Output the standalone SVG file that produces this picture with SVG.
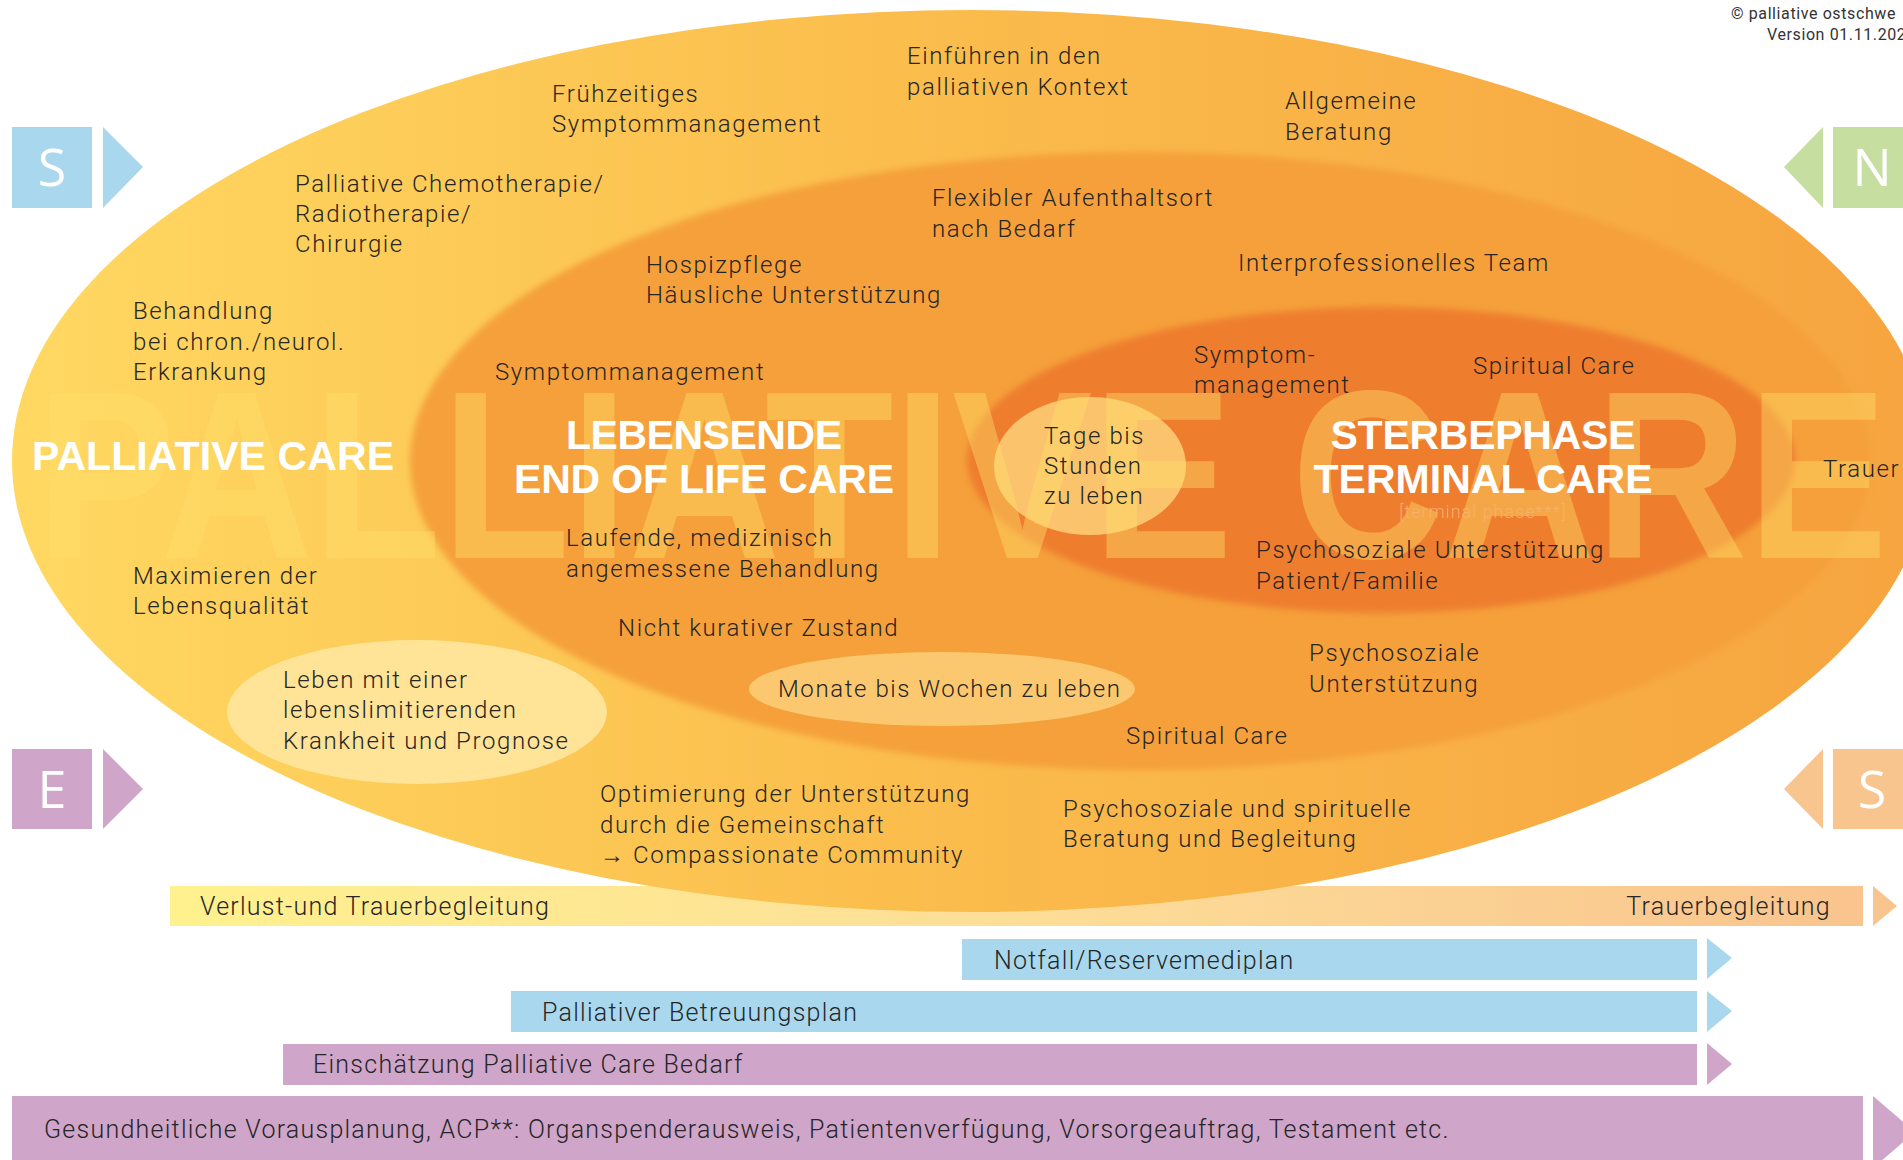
<svg xmlns="http://www.w3.org/2000/svg" width="1903" height="1160" viewBox="0 0 1903 1160">
<defs>
<linearGradient id="gOuter" x1="0" y1="0" x2="1" y2="0">
<stop offset="0" stop-color="#FFD862"/><stop offset="0.45" stop-color="#FBBE4D"/><stop offset="1" stop-color="#F6A43F"/>
</linearGradient>
<linearGradient id="gBar" x1="0" y1="0" x2="1" y2="0">
<stop offset="0" stop-color="#FFF18E"/><stop offset="0.5" stop-color="#FDDE98"/><stop offset="1" stop-color="#F9C48E"/>
</linearGradient>
<filter id="soft" x="-5%" y="-5%" width="110%" height="110%"><feGaussianBlur stdDeviation="3"/></filter>
<style>
.t{font-family:Roboto,"Liberation Sans",sans-serif;font-size:24px;font-weight:300;letter-spacing:1.6px;fill:#262626}
.b{font-family:Roboto,"Liberation Sans",sans-serif;font-size:25px;font-weight:300;letter-spacing:1.25px;fill:#262626}
.h{font-family:"Liberation Sans",Roboto,sans-serif;font-weight:700;fill:#FFFFFF}
.w{font-family:"Liberation Sans",Roboto,sans-serif;font-weight:700;fill:#FFE06A;opacity:0.42}
.badge{font-family:"Open Sans","Liberation Sans",sans-serif;font-size:52px;fill:#FFFFFF;text-anchor:middle}
.cp{font-family:Roboto,"Liberation Sans",sans-serif;font-size:16px;letter-spacing:0.6px;fill:#333333}
.blue{fill:#A9D8EE}.purple{fill:#CFA5CA}.green{fill:#C6DFA0}.peach{fill:#F9C58F}
</style>
</defs>
<rect width="1903" height="1160" fill="#FFFFFF"/>

<g id="bar-verlust">
<rect x="170" y="886" width="1693" height="40" fill="url(#gBar)"/>
<polygon points="1873,886 1897,906 1873,926" class="peach"/>
</g>

<g id="ellipses">
<ellipse cx="971" cy="461" rx="959" ry="451" fill="url(#gOuter)"/>
<ellipse cx="1140" cy="461" rx="730" ry="309" fill="#F5A03A" filter="url(#soft)"/>
<ellipse cx="1381" cy="460" rx="414" ry="153" fill="#EE7E2D" filter="url(#soft)"/>
<ellipse cx="417" cy="712" rx="190" ry="72" fill="#FFE396"/>
<ellipse cx="942" cy="689" rx="193" ry="37" fill="#FBC870"/>
<ellipse cx="1090" cy="466" rx="96" ry="69" fill="#FBC46C"/>
</g>

<text class="w" x="36" y="558" font-size="240" textLength="1852" lengthAdjust="spacingAndGlyphs">PALLIATIVE CARE</text>

<g id="badge-s-left"><rect x="12" y="127" width="80" height="81" class="blue"/><polygon points="103,127 143,167 103,208" class="blue"/><text class="badge" x="52" y="186">S</text></g>
<g id="badge-n"><rect x="1833" y="127" width="75" height="81" class="green"/><polygon points="1823,127 1784,167 1823,208" class="green"/><text class="badge" x="1872" y="186">N</text></g>
<g id="badge-e"><rect x="12" y="749" width="80" height="80" class="purple"/><polygon points="103,749 143,789 103,829" class="purple"/><text class="badge" x="52" y="808">E</text></g>
<g id="badge-s-right"><rect x="1833" y="749" width="75" height="80" class="peach"/><polygon points="1823,749 1784,789 1823,829" class="peach"/><text class="badge" x="1872" y="808">S</text></g>

<g id="copyright"><text class="cp" x="1731" y="19">© palliative ostschwe</text><text class="cp" x="1767" y="40" letter-spacing="0.3">Version 01.11.202</text></g>

<g id="title-palliative"><text class="h" x="32" y="470" font-size="41" textLength="362">PALLIATIVE CARE</text></g>
<g id="title-lebensende"><text class="h" x="704" y="449" font-size="41" text-anchor="middle" textLength="276">LEBENSENDE</text><text class="h" x="704" y="493" font-size="41" text-anchor="middle" textLength="380">END OF LIFE CARE</text></g>
<g id="title-sterbephase"><text class="h" x="1483" y="449" font-size="41" text-anchor="middle" textLength="305">STERBEPHASE</text><text class="h" x="1483" y="493" font-size="41" text-anchor="middle" textLength="339">TERMINAL CARE</text><text x="1483" y="518" font-family="Roboto,'Liberation Sans',sans-serif" font-size="18" font-weight="300" letter-spacing="1" fill="#F8B068" text-anchor="middle">[terminal phase***]</text></g>

<g id="n-fruehzeitig"><text class="t" x="552" y="102">Frühzeitiges</text><text class="t" x="552" y="132">Symptommanagement</text></g>
<g id="n-einfuehren"><text class="t" x="907" y="64">Einführen in den</text><text class="t" x="907" y="95">palliativen Kontext</text></g>
<g id="n-allgemeine"><text class="t" x="1285" y="109">Allgemeine</text><text class="t" x="1285" y="140">Beratung</text></g>
<g id="n-chemo"><text class="t" x="295" y="192">Palliative Chemotherapie/</text><text class="t" x="295" y="222">Radiotherapie/</text><text class="t" x="295" y="252">Chirurgie</text></g>
<g id="n-flexibel"><text class="t" x="932" y="206">Flexibler Aufenthaltsort</text><text class="t" x="932" y="237">nach Bedarf</text></g>
<g id="n-hospiz"><text class="t" x="646" y="273">Hospizpflege</text><text class="t" x="646" y="303">Häusliche Unterstützung</text></g>
<g id="n-team"><text class="t" x="1238" y="271">Interprofessionelles Team</text></g>
<g id="n-behandlung"><text class="t" x="133" y="319">Behandlung</text><text class="t" x="133" y="350">bei chron./neurol.</text><text class="t" x="133" y="380">Erkrankung</text></g>
<g id="n-symptom1"><text class="t" x="495" y="380">Symptommanagement</text></g>
<g id="n-symptom2"><text class="t" x="1194" y="363">Symptom-</text><text class="t" x="1194" y="393">management</text></g>
<g id="n-spiritual1"><text class="t" x="1473" y="374">Spiritual Care</text></g>
<g id="n-tage"><text class="t" x="1044" y="444">Tage bis</text><text class="t" x="1044" y="474">Stunden</text><text class="t" x="1044" y="504">zu leben</text></g>
<g id="n-trauer"><text class="t" x="1823" y="477">Trauer</text></g>
<g id="n-laufende"><text class="t" x="566" y="546">Laufende, medizinisch</text><text class="t" x="566" y="577">angemessene Behandlung</text></g>
<g id="n-maximieren"><text class="t" x="133" y="584">Maximieren der</text><text class="t" x="133" y="614">Lebensqualität</text></g>
<g id="n-psycho1"><text class="t" x="1256" y="558">Psychosoziale Unterstützung</text><text class="t" x="1256" y="589">Patient/Familie</text></g>
<g id="n-nicht"><text class="t" x="618" y="636">Nicht kurativer Zustand</text></g>
<g id="n-psycho2"><text class="t" x="1309" y="661">Psychosoziale</text><text class="t" x="1309" y="692">Unterstützung</text></g>
<g id="n-leben"><text class="t" x="283" y="688">Leben mit einer</text><text class="t" x="283" y="718">lebenslimitierenden</text><text class="t" x="283" y="749">Krankheit und Prognose</text></g>
<g id="n-monate"><text class="t" x="778" y="697">Monate bis Wochen zu leben</text></g>
<g id="n-spiritual2"><text class="t" x="1126" y="744">Spiritual Care</text></g>
<g id="n-optimierung"><text class="t" x="600" y="802">Optimierung der Unterstützung</text><text class="t" x="600" y="833">durch die Gemeinschaft</text><text class="t" x="600" y="863">→ Compassionate Community</text></g>
<g id="n-psycho3"><text class="t" x="1063" y="817">Psychosoziale und spirituelle</text><text class="t" x="1063" y="847">Beratung und Begleitung</text></g>

<g id="bar-verlust-labels"><text class="b" x="200" y="915">Verlust-und Trauerbegleitung</text><text class="b" x="1831" y="915" text-anchor="end">Trauerbegleitung</text></g>
<g id="bar-notfall"><rect x="962" y="939" width="735" height="41" class="blue"/><polygon points="1707,938 1732,958 1707,979" class="blue"/><text class="b" x="994" y="969">Notfall/Reservemediplan</text></g>
<g id="bar-betreuung"><rect x="511" y="991" width="1186" height="41" class="blue"/><polygon points="1707,991 1732,1011 1707,1032" class="blue"/><text class="b" x="542" y="1021">Palliativer Betreuungsplan</text></g>
<g id="bar-einschaetzung"><rect x="283" y="1044" width="1414" height="41" class="purple"/><polygon points="1707,1043 1732,1064 1707,1085" class="purple"/><text class="b" x="313" y="1073">Einschätzung Palliative Care Bedarf</text></g>
<g id="bar-acp"><rect x="12" y="1096" width="1851" height="64" class="purple"/><polygon points="1873,1096 1915,1132 1873,1168" class="purple"/><text class="b" x="44" y="1138">Gesundheitliche Vorausplanung, ACP**: Organspenderausweis, Patientenverfügung, Vorsorgeauftrag, Testament etc.</text></g>
</svg>
